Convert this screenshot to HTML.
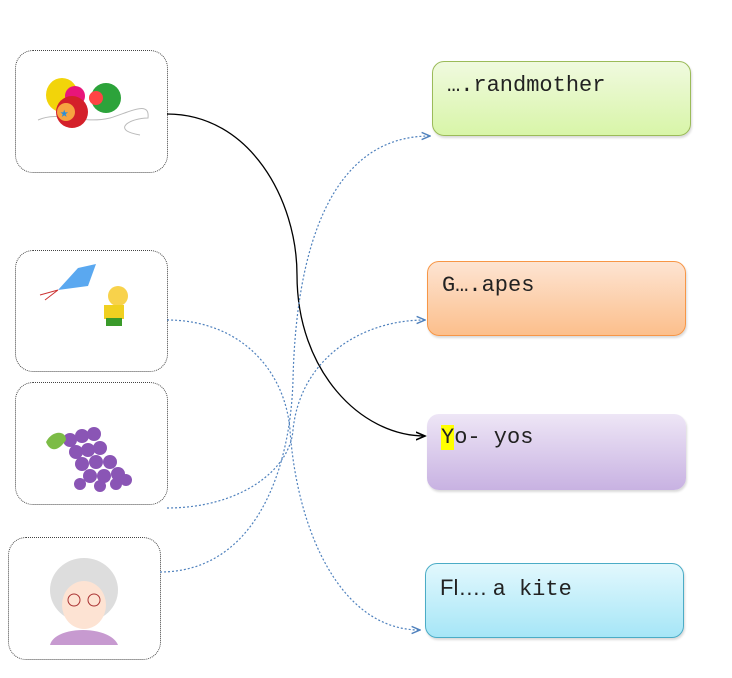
<!DOCTYPE html>
<html><head><meta charset="utf-8"><style>
body{margin:0;width:732px;height:678px;background:#fff;position:relative;overflow:hidden;font-family:"Liberation Mono",monospace}
.l{position:absolute;border:1px dotted #444;border-radius:18px;background:#fff}
.r{position:absolute;border-radius:12px;box-shadow:1px 2px 2px rgba(0,0,0,.15);font-size:22px;color:#222;box-sizing:border-box;padding:11px 0 0 14px}
svg{position:absolute;left:0;top:0}
</style></head><body>
<div class="l" style="left:15px;top:50px;width:151px;height:121px"></div>
<div class="l" style="left:15px;top:250px;width:151px;height:120px"></div>
<div class="l" style="left:15px;top:382px;width:151px;height:121px"></div>
<div class="l" style="left:8px;top:537px;width:151px;height:121px"></div>
<div class="r" style="left:432px;top:61px;width:259px;height:75px;border:1px solid #9bbb59;background:linear-gradient(#f0fadf,#d8f5a8)">….randmother</div>
<div class="r" style="left:427px;top:261px;width:259px;height:75px;border:1px solid #f79646;background:linear-gradient(#fde4d2,#fcbf8c)">G….apes</div>
<div class="r" style="left:427px;top:414px;width:259px;height:76px;background:linear-gradient(#eee6f6,#c8b2e2)"><span style="background:#ff0">Y</span>o- yos</div>
<div class="r" style="left:425px;top:563px;width:259px;height:75px;border:1px solid #4bacc6;background:linear-gradient(#e2f8fd,#a6e6f7)"><span style="font-family:'Liberation Sans',sans-serif;font-size:22px">Fl…. </span>a kite</div>
<svg width="732" height="678">
<defs>
<marker id="a" markerWidth="8" markerHeight="8" refX="7" refY="4" orient="auto"><path d="M0,1 L7,4 L0,7" fill="none" stroke="#000" stroke-width="1.2"/></marker>
<marker id="b" markerWidth="8" markerHeight="8" refX="7" refY="4" orient="auto"><path d="M0,1 L7,4 L0,7" fill="none" stroke="#4f81bd" stroke-width="1.2"/></marker>
</defs>
<path d="M167,114 C250,114 297,200 297,275 C297,370 360,436 425,436" fill="none" stroke="#000" stroke-width="1.3" marker-end="url(#a)"/>
<g fill="none" stroke="#4f81bd" stroke-width="1.2" stroke-dasharray="2,2">
<path d="M167,320 C240,320 285,370 290,430 C297,530 340,630 420,630" marker-end="url(#b)"/>
<path d="M167,508 C240,508 290,470 293,430 C300,360 360,320 425,320" marker-end="url(#b)"/>
<path d="M160,572 C250,572 290,480 293,380 C296,250 330,136 430,136" marker-end="url(#b)"/>
</g>
<path d="M38,120 C60,110 80,125 110,118 C130,112 150,100 148,118 C130,118 110,130 140,135" fill="none" stroke="#bbb"/>
<ellipse cx="62" cy="95" rx="16" ry="17" fill="#f2d40a"/><circle cx="75" cy="96" r="10" fill="#e8157a"/>
<circle cx="106" cy="98" r="15" fill="#2ca33a"/><circle cx="96" cy="98" r="7" fill="#f44"/>
<circle cx="72" cy="112" r="16" fill="#d4202a"/><circle cx="66" cy="112" r="9" fill="#f7a440"/><text x="60" y="117" font-size="14" fill="#2a8fd8">★</text>
<path d="M58,290 L78,268 L96,264 L88,286 Z" fill="#5aa8f0"/><path d="M58,290 L40,295 M58,290 L45,300" stroke="#c33"/>
<circle cx="118" cy="296" r="10" fill="#f8d24b"/><rect x="104" y="305" width="20" height="14" fill="#f0d020"/><rect x="106" y="318" width="16" height="8" fill="#3a9a2a"/>
<g fill="#8a55b5"><circle cx="70" cy="440" r="7"/><circle cx="82" cy="436" r="7"/><circle cx="94" cy="434" r="7"/><circle cx="76" cy="452" r="7"/><circle cx="88" cy="450" r="7"/><circle cx="100" cy="448" r="7"/><circle cx="82" cy="464" r="7"/><circle cx="96" cy="462" r="7"/><circle cx="110" cy="462" r="7"/><circle cx="90" cy="476" r="7"/><circle cx="104" cy="476" r="7"/><circle cx="118" cy="474" r="7"/><circle cx="126" cy="480" r="6"/><circle cx="116" cy="484" r="6"/><circle cx="100" cy="486" r="6"/><circle cx="80" cy="484" r="6"/></g>
<path d="M46,442 C52,430 66,430 66,440 C58,452 50,452 46,442Z" fill="#7cbc46"/>
<ellipse cx="84" cy="590" rx="34" ry="32" fill="#ddd"/><path d="M50,645 C55,625 110,625 118,645Z" fill="#c79ad0"/>
<ellipse cx="84" cy="605" rx="22" ry="24" fill="#fde3d3"/><circle cx="74" cy="600" r="6" fill="none" stroke="#a33"/><circle cx="94" cy="600" r="6" fill="none" stroke="#a33"/>
</svg>
</body></html>
